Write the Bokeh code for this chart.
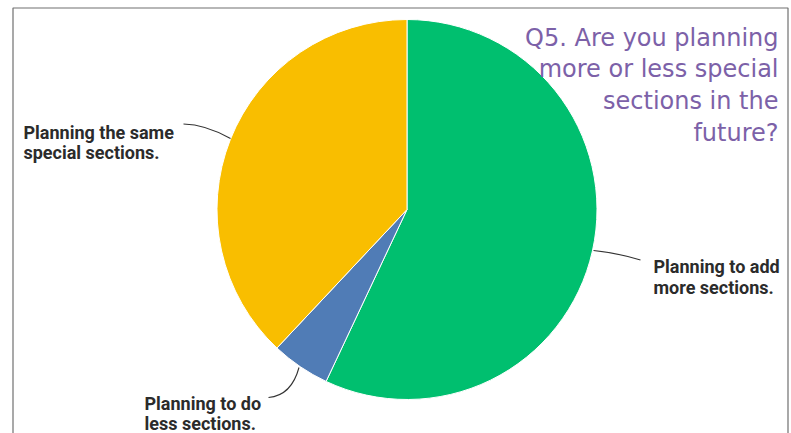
import numpy as np
from bokeh.plotting import figure
from bokeh.models import Range1d, ColumnDataSource
from bokeh.core.properties import value
from bokeh.embed import file_html
from bokeh.resources import INLINE

# ---- data ----
categories = ["Planning to add more sections.", "Planning to do less sections.",
              "Planning the same special sections."]
shares = [57, 5, 38]
colors = ["#00bf6f", "#507cb6", "#f9be00"]
label_lines = [["Planning to add", "more sections."],
               ["Planning to do", "less sections."],
               ["Planning the same", "special sections."]]
title_lines = ["Q5. Are you planning", "more or less special", "sections in the", "future?"]

W, H = 791, 433


def Y(y):
    return H - y


p = figure(width=W, height=H, x_range=Range1d(0, W), y_range=Range1d(0, H),
           output_backend="svg", toolbar_location=None, min_border=0)
p.axis.visible = False
p.grid.visible = False
p.outline_line_color = None
p.background_fill_color = "white"
p.border_fill_color = "white"

# frame border
p.line(x=[12.5, 12.5, 787.5, 787.5], y=[Y(440), Y(7.5), Y(7.5), Y(440)],
       line_color="#707070", line_width=1.2)

# pie
cx, cy, r = 406.5, 209, 190
fr = np.array(shares, dtype=float) / sum(shares)
cum = np.concatenate([[0], np.cumsum(fr)]) * 2 * np.pi
src = ColumnDataSource(dict(start=np.pi / 2 - cum[:-1], end=np.pi / 2 - cum[1:],
                            color=colors, cat=categories))
p.wedge(x=cx, y=Y(cy), radius=r, start_angle="start", end_angle="end",
        direction="clock", fill_color="color", line_color="white",
        line_width=1, source=src)

# leader lines (quadratic curves)
leaders = [  # (x0,y0,x1,y1,cx,cy) screen coords
    (593, 250, 640, 259.5, 615, 252),
    (298.5, 367, 268, 397, 291, 395),
    (230, 138, 183, 123.5, 205, 124),
]
for (x0, y0, x1, y1, qx, qy) in leaders:
    p.quadratic(x0=x0, y0=Y(y0), x1=x1, y1=Y(y1), cx=qx, cy=Y(qy),
                line_color="#333333", line_width=1.1)

# labels
label_pos = [(653, 266, 287), (144, 402.5, 422.5), (23, 132, 152)]
for lines, (lx, b1, b2) in zip(label_lines, label_pos):
    p.text(x=[lx, lx], y=[Y(b1), Y(b2)], text=lines,
           text_font=value("Roboto"), text_font_style="bold",
           text_font_size="18px", text_color="#2b2b2b",
           text_align="left", text_baseline="alphabetic")

# title
baselines = [37, 68.5, 100.5, 132]
p.text(x=[778] * 4, y=[Y(b) for b in baselines], text=title_lines,
       text_font=value("DejaVu Sans"), text_font_size="24px",
       text_color="#7c61a8", text_align="right", text_baseline="alphabetic")

open("out.html", "w").write(file_html(p, INLINE))
